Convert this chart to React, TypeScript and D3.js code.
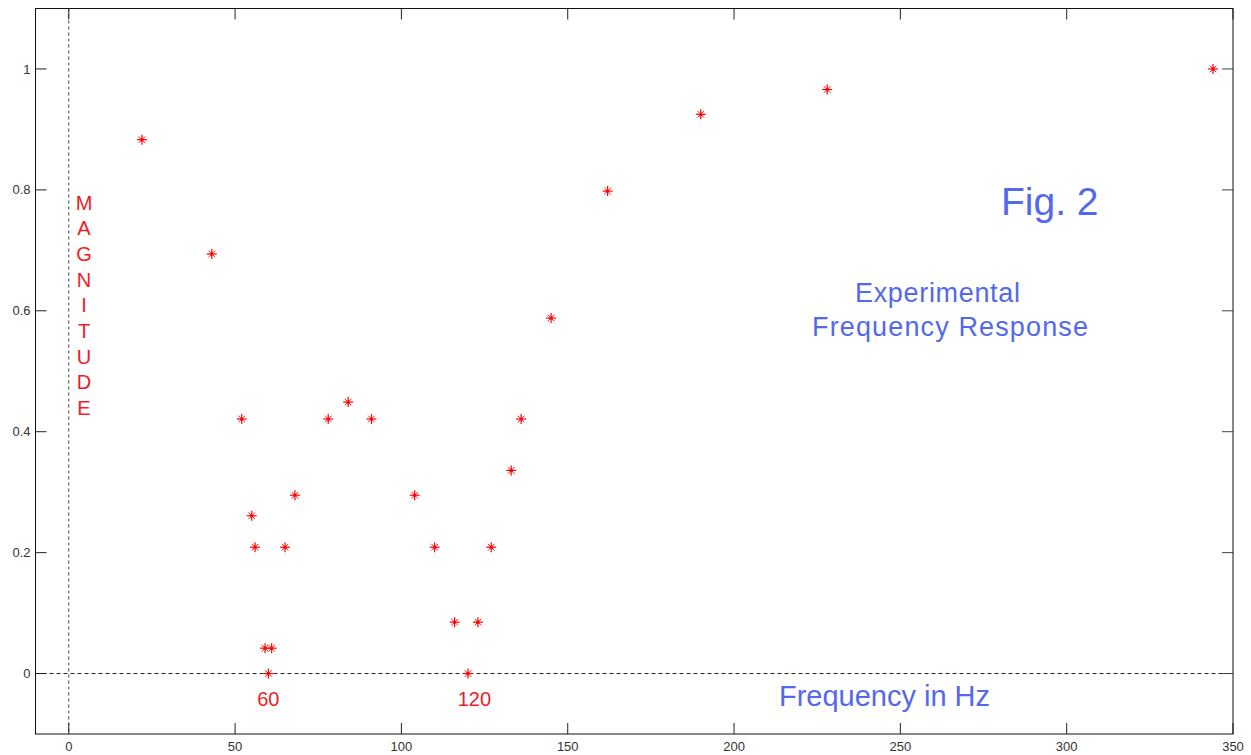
import * as d3 from "d3";

// measured frequency (Hz) and normalised magnitude
const freqHz = [
  22, 43, 52, 55, 56, 59, 61, 60, 65, 68, 78, 84, 91, 104, 110, 116, 120, 123,
  127, 133, 136, 145, 162, 190, 228, 344,
];
const magnitude = [
  0.883, 0.694, 0.421, 0.261, 0.209, 0.042, 0.042, 0, 0.209, 0.295, 0.421,
  0.449, 0.421, 0.295, 0.209, 0.085, 0, 0.085, 0.209, 0.336, 0.421, 0.588,
  0.798, 0.925, 0.966, 1.0,
];
const xTickValues = [0, 50, 100, 150, 200, 250, 300, 350];
const yTickValues = [0, 0.2, 0.4, 0.6, 0.8, 1];
const yLabelLetters = "MAGNITUDE".split("");
const markedFreqs = [60, 120];

export default function App() {
  const width = 1251;
  const height = 755;
  const left = 35.5;
  const right = 1233;
  const top = 8.5;
  const bottom = 734;
  const tickLen = 11;

  const red = "#ee1c24";
  const blue = "#5468ee";
  const font = "'Liberation Sans', Arial, sans-serif";

  const x = d3.scaleLinear().domain([-10, 350]).range([left, right]);
  const y = d3.scaleLinear().domain([-0.1, 1.1]).range([bottom, top]);

  const points = freqHz.map((f, i) => ({ f, m: magnitude[i] }));

  return (
    <svg
      width={width}
      height={height}
      style={{ position: "absolute", left: 0, top: 0, background: "#fff" }}
      fontFamily={font}
    >
      <rect x={0} y={0} width={width} height={height} fill="#fff" />

      {/* zero lines */}
      <line
        x1={x(0)}
        x2={x(0)}
        y1={top}
        y2={bottom}
        stroke="#444"
        strokeDasharray="3,3"
      />
      <line
        x1={left}
        x2={right}
        y1={y(0)}
        y2={y(0)}
        stroke="#222"
        strokeDasharray="4,3"
      />

      {/* x ticks, inward on top and bottom */}
      {xTickValues.map((t) => (
        <g key={t} transform={`translate(${x(t)},0)`}>
          <line y1={bottom} y2={bottom - tickLen} stroke="#222" />
          <line y1={top} y2={top + tickLen} stroke="#222" />
          <text
            y={bottom + 17}
            textAnchor="middle"
            fontSize="13"
            fill="#333"
          >
            {t}
          </text>
        </g>
      ))}

      {/* y ticks, inward on left and right */}
      {yTickValues.map((t) => (
        <g key={t} transform={`translate(0,${y(t)})`}>
          <line x1={left} x2={left + tickLen} stroke="#222" />
          <line x1={right} x2={right - tickLen} stroke="#444" />
          <text
            x={left - 5}
            dy="0.35em"
            textAnchor="end"
            fontSize="13"
            fill="#333"
          >
            {t}
          </text>
        </g>
      ))}

      {/* frame */}
      <rect
        x={left}
        y={top}
        width={right - left}
        height={bottom - top}
        fill="none"
        stroke="#111"
      />

      {/* data markers (*) */}
      {points.map((d, i) => (
        <g
          key={i}
          transform={`translate(${x(d.f)},${y(d.m)})`}
          stroke="#ff0000"
          strokeWidth={1.2}
        >
          <line x1={-5} x2={5} />
          <line y1={-5} y2={5} />
          <line x1={-3.3} y1={-3.3} x2={3.3} y2={3.3} strokeWidth={0.9} />
          <line x1={-3.3} y1={3.3} x2={3.3} y2={-3.3} strokeWidth={0.9} />
          <circle r={1.6} fill="#ff0000" stroke="none" />
        </g>
      ))}

      {/* vertical MAGNITUDE label */}
      {yLabelLetters.map((c, i) => (
        <text
          key={i}
          x={84}
          y={209.5 + i * 25.7}
          textAnchor="middle"
          fontSize="20"
          fill={red}
        >
          {c}
        </text>
      ))}

      {/* marked frequencies */}
      {markedFreqs.map((f) => (
        <text
          key={f}
          x={x(f) + (f === 120 ? 6.5 : 0)}
          y={706}
          textAnchor="middle"
          fontSize="20"
          fill={red}
        >
          {f}
        </text>
      ))}

      <text x={1001} y={215} fontSize="39" fill={blue}>
        Fig. 2
      </text>
      <text x={855} y={302} fontSize="27" fill={blue} textLength={165}>
        Experimental
      </text>
      <text x={812} y={336} fontSize="27" fill={blue} textLength={276}>
        Frequency Response
      </text>
      <text x={779} y={706} fontSize="29" fill={blue} textLength={211}>
        Frequency in Hz
      </text>
    </svg>
  );
}
